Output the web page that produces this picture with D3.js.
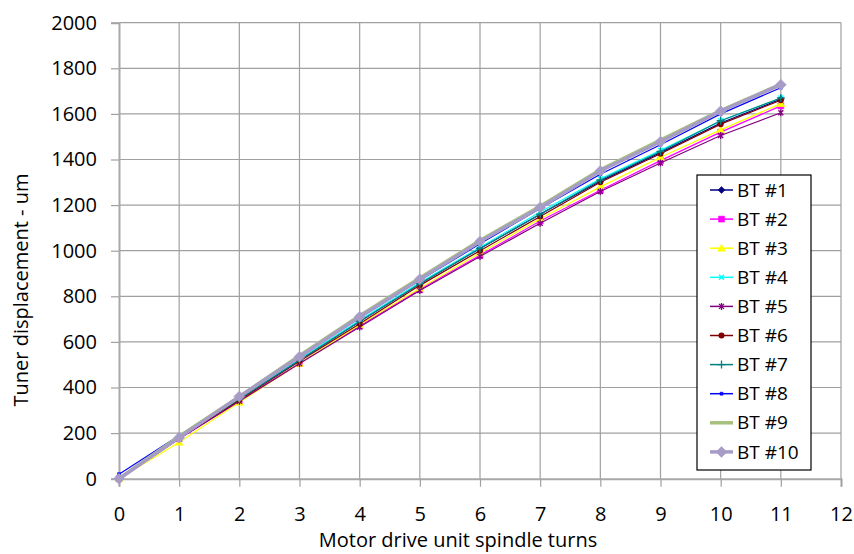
<!DOCTYPE html>
<html>
<head>
<meta charset="utf-8">
<script src="https://cdn.jsdelivr.net/npm/d3@7.8.5/dist/d3.min.js"></script>
<style>
  body { margin: 0; background: #fff; }
  svg { display: block; font-family: "Open Sans", sans-serif; }
</style>
</head>
<body>
<svg width="854" height="554"></svg>
<script>
const turns = [0, 1, 2, 3, 4, 5, 6, 7, 8, 9, 10, 11];
const seriesNames = ["BT #1", "BT #2", "BT #3", "BT #4", "BT #5", "BT #6", "BT #7", "BT #8", "BT #9", "BT #10"];
const bt1 = [0, 180, 350, 520, 690, 855, 1010, 1160, 1305, 1430, 1560, 1665];
const bt2 = [0, 175, 340, 505, 670, 830, 980, 1130, 1265, 1395, 1520, 1635];
const bt3 = [0, 160, 335, 505, 675, 835, 990, 1140, 1280, 1410, 1530, 1645];
const bt4 = [0, 180, 350, 525, 695, 860, 1015, 1170, 1315, 1440, 1570, 1670];
const bt5 = [0, 175, 340, 505, 665, 825, 975, 1120, 1260, 1385, 1505, 1605];
const bt6 = [0, 180, 345, 515, 680, 848, 1000, 1150, 1300, 1425, 1555, 1660];
const bt7 = [0, 180, 350, 520, 690, 855, 1010, 1160, 1310, 1435, 1570, 1670];
const bt8 = [20, 190, 360, 535, 705, 870, 1030, 1185, 1335, 1465, 1600, 1715];
const bt9 = [0, 185, 360, 540, 715, 880, 1045, 1195, 1355, 1485, 1615, 1730];
const bt10 = [0, 180, 360, 535, 710, 875, 1040, 1190, 1350, 1478, 1612, 1728];
const xTicks = [0, 1, 2, 3, 4, 5, 6, 7, 8, 9, 10, 11, 12];
const yTicks = [0, 200, 400, 600, 800, 1000, 1200, 1400, 1600, 1800, 2000];

const allValues = [bt1, bt2, bt3, bt4, bt5, bt6, bt7, bt8, bt9, bt10];
const styles = [
  { color: "#000080", marker: "diamond", size: 5, width: 1.2 },
  { color: "#FF00FF", marker: "square", size: 6, width: 1.2 },
  { color: "#FFFF00", marker: "triangle", size: 6, width: 1.2 },
  { color: "#00FFFF", marker: "x", size: 5, width: 1.2 },
  { color: "#800080", marker: "star", size: 5, width: 1.2 },
  { color: "#800000", marker: "circle", size: 6, width: 1.2 },
  { color: "#008080", marker: "plus", size: 6, width: 1.2 },
  { color: "#0000FF", marker: "dash", size: 5, width: 1.2 },
  { color: "#A6C17E", marker: "none", size: 0, width: 3.5 },
  { color: "#A79CC6", marker: "diamond", size: 9, width: 3.5 }
];

const svg = d3.select("svg");
const x = d3.scaleLinear().domain([0, 12]).range([119, 841]);
const y = d3.scaleLinear().domain([0, 2000]).range([478.7, 22.7]);

// grid
svg.append("g").selectAll("line.h").data(yTicks.slice(1)).join("line")
  .attr("x1", x(0)).attr("x2", x(12))
  .attr("y1", d => y(d)).attr("y2", d => y(d))
  .attr("stroke", "#A0A0A0").attr("stroke-width", 1.2);
svg.append("g").selectAll("line.v").data(xTicks.slice(1)).join("line")
  .attr("x1", d => x(d)).attr("x2", d => x(d))
  .attr("y1", y(0)).attr("y2", y(2000))
  .attr("stroke", "#A0A0A0").attr("stroke-width", 1.2);

// axes
const xAxis = svg.append("g").attr("transform", `translate(0,${y(0)})`)
  .call(d3.axisBottom(x).tickValues(xTicks).tickFormat(d3.format("d")).tickSize(8).tickPadding(20));
const yAxis = svg.append("g").attr("transform", `translate(${x(0)},0)`)
  .call(d3.axisLeft(y).tickValues(yTicks).tickFormat(d3.format("d")).tickSize(8).tickPadding(14));
[xAxis, yAxis].forEach(a => {
  a.select(".domain").attr("stroke", "#A8A8A8").attr("stroke-width", 2);
  a.selectAll(".tick line").attr("stroke", "#A0A0A0").attr("stroke-width", 1.2);
  a.selectAll(".tick text").attr("fill", "#000").style("font-size", "20px")
    .style("font-family", "'Open Sans', sans-serif");
});

function markerPath(type, s) {
  const h = s / 2;
  switch (type) {
    case "diamond": return `M0,${-h - 1}L${h + 1},0L0,${h + 1}L${-h - 1},0Z`;
    case "square": return `M${-h},${-h}h${s}v${s}h${-s}Z`;
    case "triangle": return `M0,${-h - 1}L${h + 1},${h}L${-h - 1},${h}Z`;
    case "x": return `M${-h},${-h}L${h},${h}M${-h},${h}L${h},${-h}`;
    case "star": return `M${-h},${-h}L${h},${h}M${-h},${h}L${h},${-h}M0,${-h - 1}V${h + 1}`;
    case "plus": return `M0,${-h - 1}V${h + 1}M${-h - 1},0H${h + 1}`;
    case "dash": return `M${-h + 1},-1.5h${s - 2}v3h${-(s - 2)}Z`;
    default: return "";
  }
}
function drawMarker(g, st) {
  if (st.marker === "none") return;
  if (st.marker === "circle") {
    g.append("circle").attr("r", st.size / 2).attr("fill", st.color);
    return;
  }
  const open = st.marker === "x" || st.marker === "star" || st.marker === "plus";
  g.append("path").attr("d", markerPath(st.marker, st.size))
    .attr("fill", open ? "none" : st.color)
    .attr("stroke", st.color).attr("stroke-width", open ? 1.3 : 0.5);
}

const line = d3.line().x((d, i) => x(turns[i])).y(d => y(d));
const series = svg.append("g");
allValues.forEach((vals, k) => {
  const st = styles[k];
  const g = series.append("g");
  g.append("path").datum(vals).attr("d", line)
    .attr("fill", "none").attr("stroke", st.color).attr("stroke-width", st.width)
    .attr("stroke-linejoin", "round");
  vals.forEach((v, i) => {
    const m = g.append("g").attr("transform", `translate(${x(turns[i])},${y(v)})`);
    drawMarker(m, st);
  });
});

// legend
const legend = svg.append("g").attr("transform", "translate(697,175)");
legend.append("rect").attr("width", 114).attr("height", 295)
  .attr("fill", "#fff").attr("stroke", "#000").attr("stroke-width", 1.2);
seriesNames.forEach((name, k) => {
  const st = styles[k];
  const row = legend.append("g").attr("transform", `translate(0,${15 + k * 29.1})`);
  row.append("line").attr("x1", 13).attr("x2", 36).attr("stroke", st.color)
    .attr("stroke-width", st.width === 1.2 ? 1.5 : 3.5);
  drawMarker(row.append("g").attr("transform", "translate(24.5,0)"), st);
  row.append("text").attr("x", 40).attr("y", 0).attr("dy", "0.35em")
    .style("font-size", "19px").text(name);
});

// axis titles
svg.append("text").attr("x", 458).attr("y", 547).attr("text-anchor", "middle")
  .style("font-size", "20px").text("Motor drive unit spindle turns");
svg.append("text").attr("transform", "translate(28,290) rotate(-90)")
  .attr("text-anchor", "middle").style("font-size", "20px")
  .text("Tuner displacement - um");
</script>
</body>
</html>
